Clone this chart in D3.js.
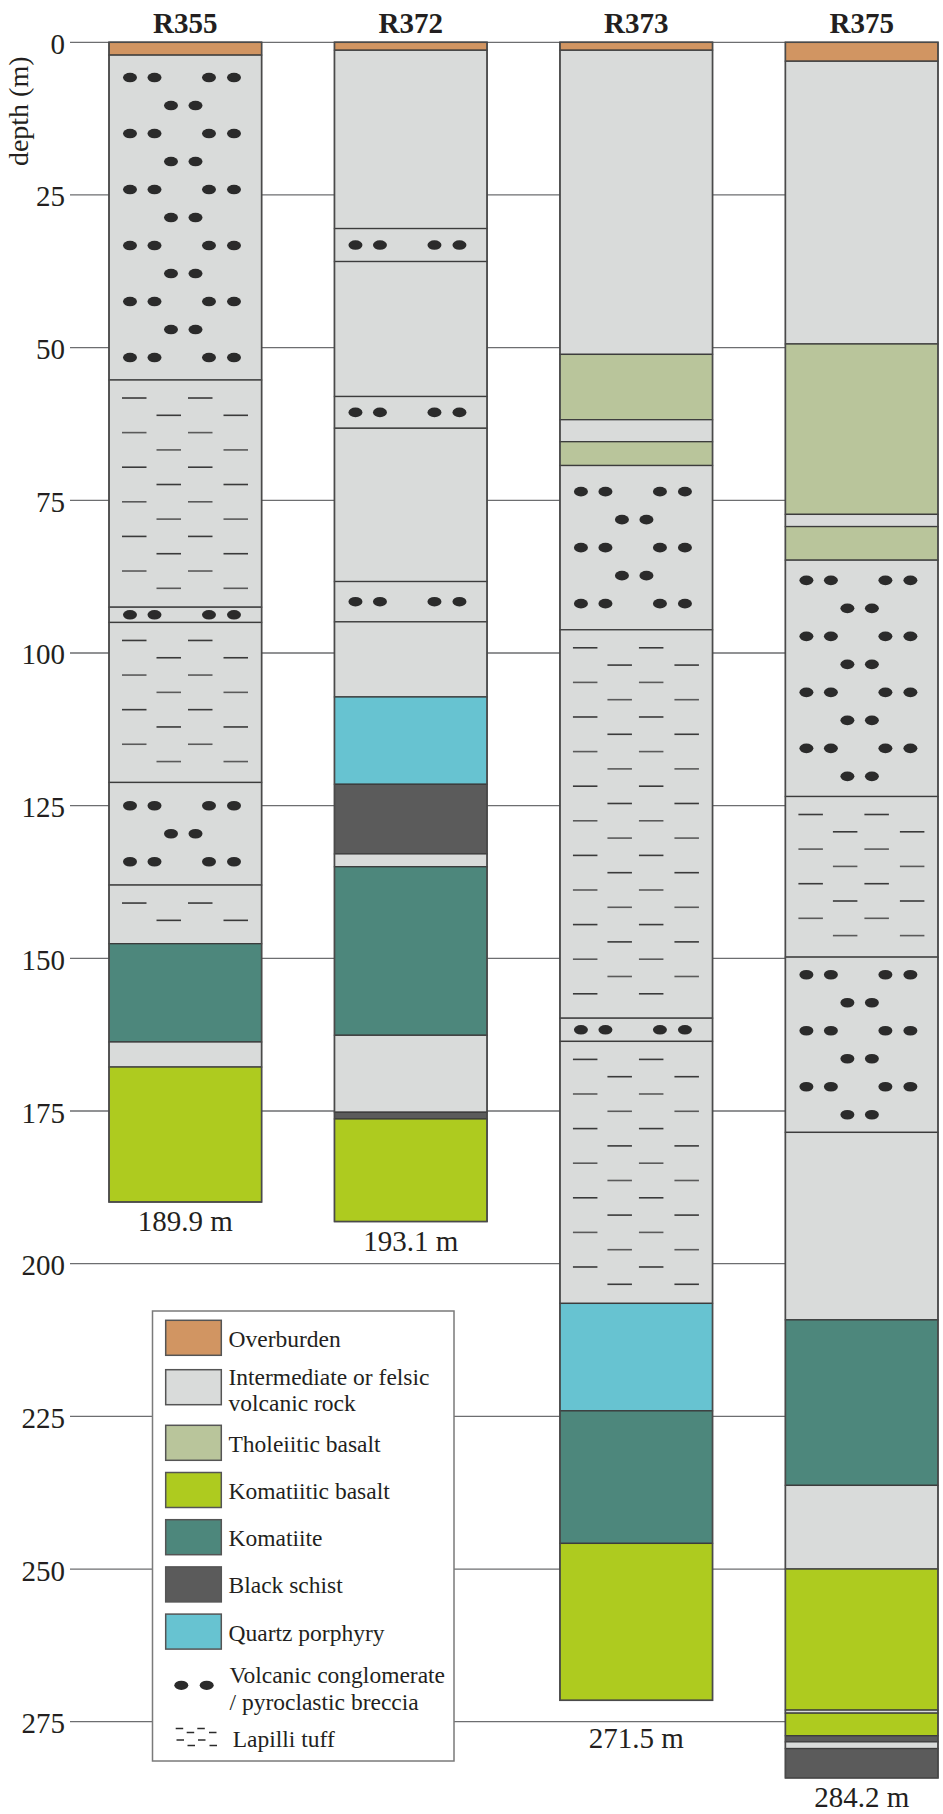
<!DOCTYPE html>
<html>
<head>
<meta charset="utf-8">
<script src="https://cdn.jsdelivr.net/npm/d3@7"></script>
<style>
  html, body { margin: 0; padding: 0; background: #fff; }
  svg { display: block; }
  text { font-family: "Liberation Serif", "Times New Roman", serif; fill: #231f20; }
</style>
</head>
<body>
<svg id="chart" width="943" height="1814"></svg>
<script>
// ---- Drill holes -------------------------------------------------------
const wells = ["R355", "R372", "R373", "R375"];
const totalDepths = [189.9, 193.1, 271.5, 284.2];
const depthTicks = [0, 25, 50, 75, 100, 125, 150, 175, 200, 225, 250, 275];

// ---- Lithologies -------------------------------------------------------
const rockCodes = ["OB", "IF", "TB", "KB", "KO", "BS", "QP"];
const rockNames = [
  ["Overburden"],
  ["Intermediate or felsic", "volcanic rock"],
  ["Tholeiitic basalt"],
  ["Komatiitic basalt"],
  ["Komatiite"],
  ["Black schist"],
  ["Quartz porphyry"]
];
const rockColors = ["#d19562", "#d9dbda", "#b9c59b", "#aecb1f", "#4d877c", "#5b5b5b", "#67c3d1"];
const textureNames = [
  ["Volcanic conglomerate", "/ pyroclastic breccia"],
  ["Lapilli tuff"]
];

// ---- Logged intervals: [top (m), base (m), rock code, texture] ----------
// texture: "cg" = volcanic conglomerate / breccia, "lt" = lapilli tuff
const R355 = [
  [0, 2.1, "OB"], [2.1, 55.3, "IF", "cg"], [55.3, 92.5, "IF", "lt"],
  [92.5, 95.0, "IF", "cg"], [95.0, 121.2, "IF", "lt"], [121.2, 138.0, "IF", "cg"],
  [138.0, 147.6, "IF", "lt"], [147.6, 163.7, "KO"], [163.7, 167.8, "IF"],
  [167.8, 189.9, "KB"]
];
const R372 = [
  [0, 1.3, "OB"], [1.3, 30.5, "IF"], [30.5, 35.9, "IF", "cg"], [35.9, 58.0, "IF"],
  [58.0, 63.2, "IF", "cg"], [63.2, 88.3, "IF"], [88.3, 94.9, "IF", "cg"],
  [94.9, 107.2, "IF"], [107.2, 121.5, "QP"], [121.5, 132.9, "BS"],
  [132.9, 135.0, "IF"], [135.0, 162.6, "KO"], [162.6, 175.2, "IF"],
  [175.2, 176.3, "BS"], [176.3, 193.1, "KB"]
];
const R373 = [
  [0, 1.3, "OB"], [1.3, 51.1, "IF"], [51.1, 61.8, "TB"], [61.8, 65.4, "IF"],
  [65.4, 69.3, "TB"], [69.3, 96.2, "IF", "cg"], [96.2, 159.8, "IF", "lt"],
  [159.8, 163.6, "IF", "cg"], [163.6, 206.5, "IF", "lt"], [206.5, 224.1, "QP"],
  [224.1, 245.8, "KO"], [245.8, 271.5, "KB"]
];
const R375 = [
  [0, 3.1, "OB"], [3.1, 49.4, "IF"], [49.4, 77.3, "TB"], [77.3, 79.3, "IF"],
  [79.3, 84.8, "TB"], [84.8, 123.5, "IF", "cg"], [123.5, 149.8, "IF", "lt"],
  [149.8, 178.5, "IF", "cg"], [178.5, 209.2, "IF"], [209.2, 236.3, "KO"],
  [236.3, 250.0, "IF"], [250.0, 273.1, "KB"], [273.1, 273.6, "IF"],
  [273.6, 277.3, "KB"], [277.3, 278.3, "BS"], [278.3, 279.4, "IF"],
  [279.4, 284.2, "BS"]
];
const wellLogs = [R355, R372, R373, R375];

// ---- Scales ------------------------------------------------------------
const svg = d3.select("#chart");
const y = d3.scaleLinear().domain([0, 275]).range([42.3, 1721.7]);
const x = d3.scaleBand().domain(wells).range([109, 938]).paddingInner(0.3232).paddingOuter(0);
const bw = x.bandwidth();
const colorOf = d3.scaleOrdinal().domain(rockCodes).range(rockColors);

const INK = "#2b2b2b";

// ---- Depth grid and axis ----------------------------------------------
const gridG = svg.append("g");
gridG.selectAll("line").data(depthTicks).join("line")
  .attr("x1", 70).attr("x2", x(wells[wells.length - 1]))
  .attr("y1", d => y(d)).attr("y2", d => y(d))
  .attr("stroke", "#6d6e70").attr("stroke-width", 1.3);

gridG.selectAll("text").data(depthTicks).join("text")
  .attr("x", 65).attr("y", d => y(d) + 11.5)
  .attr("text-anchor", "end")
  .style("font-size", "29px")
  .text(d => d);

svg.append("text")
  .attr("transform", `translate(27.5,${y(0) + 69}) rotate(-90)`)
  .attr("text-anchor", "middle")
  .style("font-size", "28px")
  .text("depth (m)");

// ---- Texture helpers ---------------------------------------------------
const fourDots = [21, 45.5, 100, 125];
const twoDots = [62, 86.5];
const dashA = [13, 79];
const dashB = [47.5, 114.5];
const dashLen = 24.5;

function drawConglomerate(g, top, bot) {
  const h = bot - top;
  const n = Math.max(1, Math.floor(h / 27.5));
  const step = 28;
  const start = n === 1 ? top + h / 2 : top + (h - (n - 1) * step) / 2;
  const k = bw / 152.6;
  for (let r = 0; r < n; r++) {
    const cy = start + r * step;
    const xs = r % 2 === 0 ? fourDots : twoDots;
    xs.forEach(px => {
      g.append("ellipse")
        .attr("cx", px * k).attr("cy", cy)
        .attr("rx", 7).attr("ry", 4.8)
        .attr("fill", INK);
    });
  }
}

function drawLapilli(g, top, bot) {
  const k = bw / 152.6;
  let r = 0;
  for (let cy = top + 18; cy <= bot - 8; cy += 17.3, r++) {
    const xs = r % 2 === 0 ? dashA : dashB;
    xs.forEach(px => {
      g.append("line")
        .attr("x1", px * k).attr("x2", px * k + dashLen)
        .attr("y1", cy).attr("y2", cy)
        .attr("stroke", r % 4 < 2 ? "#3a3a3a" : "#5a5a5a")
        .attr("stroke-width", 1.6);
    });
  }
}

// ---- Columns -----------------------------------------------------------
const cols = svg.selectAll("g.well").data(wells).join("g")
  .attr("class", "well")
  .attr("transform", d => `translate(${x(d)},0)`);

cols.each(function (w, i) {
  const g = d3.select(this);
  const log = wellLogs[i];

  g.selectAll("rect.layer").data(log).join("rect")
    .attr("class", "layer")
    .attr("x", 0).attr("width", bw)
    .attr("y", d => y(d[0]))
    .attr("height", d => y(d[1]) - y(d[0]))
    .attr("fill", d => colorOf(d[2]))
    .attr("stroke", "#3c3c3c").attr("stroke-width", 1.3);

  const tex = g.append("g");
  log.forEach(d => {
    if (d[3] === "cg") drawConglomerate(tex, y(d[0]), y(d[1]));
    if (d[3] === "lt") drawLapilli(tex, y(d[0]), y(d[1]));
  });

  g.append("rect")
    .attr("x", 0).attr("y", y(0))
    .attr("width", bw).attr("height", y(totalDepths[i]) - y(0))
    .attr("fill", "none").attr("stroke", "#4a4a4a").attr("stroke-width", 1.5);

  // well name
  g.append("text")
    .attr("x", bw / 2).attr("y", 33.3)
    .attr("text-anchor", "middle")
    .style("font-size", "29px").style("font-weight", "bold")
    .text(w);

  // total depth, pushed below a grid line if it would cross it
  let base = y(totalDepths[i]) + 29;
  const hit = depthTicks.map(y).find(gy => gy > base - 22 && gy < base + 2);
  if (hit !== undefined) base = hit + 26;
  g.append("text")
    .attr("x", bw / 2).attr("y", base)
    .attr("text-anchor", "middle")
    .style("font-size", "29px")
    .text(`${totalDepths[i]} m`);
});

// ---- Legend ------------------------------------------------------------
const lg = svg.append("g");
lg.append("rect")
  .attr("x", 152.5).attr("y", 1311).attr("width", 301.5).attr("height", 450)
  .attr("fill", "#fff").attr("stroke", "#7a7a7a").attr("stroke-width", 1.5);

const swTop = i => (i < 2 ? 1320.3 + i * 49.4 : 1425.3 + (i - 2) * 47.2);
const swX = 165.7, swW = 55.6, swH = 35, labX = 228.5;

rockCodes.forEach((c, i) => {
  const t = swTop(i);
  lg.append("rect")
    .attr("x", swX).attr("y", t).attr("width", swW).attr("height", swH)
    .attr("fill", colorOf(c)).attr("stroke", "#555").attr("stroke-width", 1.5);
  const lines = rockNames[i];
  lines.forEach((ln, j) => {
    lg.append("text")
      .attr("x", labX)
      .attr("y", lines.length === 1 ? t + 26.5 : t + 15.5 + j * 26)
      .style("font-size", "23.5px")
      .text(ln);
  });
});

// conglomerate key
[181.3, 206.7].forEach(cx => {
  lg.append("ellipse").attr("cx", cx).attr("cy", 1685.3)
    .attr("rx", 7).attr("ry", 4.6).attr("fill", INK);
});
textureNames[0].forEach((ln, j) => {
  lg.append("text").attr("x", labX + 1).attr("y", 1683.3 + j * 26.7)
    .style("font-size", "23.5px").text(ln);
});

// lapilli tuff key
const keyRows = [[1728.5, [175.7, 197.3]], [1732.5, [186.7, 209]], [1740, [176.5, 198]], [1745.5, [187.5, 209.5]]];
keyRows.forEach(([ky, xs]) => {
  xs.forEach(kx => {
    lg.append("line").attr("x1", kx).attr("x2", kx + 7.5)
      .attr("y1", ky).attr("y2", ky)
      .attr("stroke", INK).attr("stroke-width", 1.5);
  });
});
lg.append("text").attr("x", 232.7).attr("y", 1747.3)
  .style("font-size", "23.5px").text(textureNames[1][0]);
</script>
</body>
</html>
